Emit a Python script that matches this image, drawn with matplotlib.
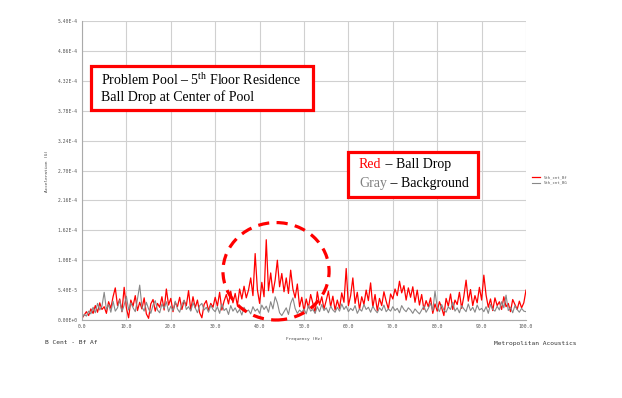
import numpy as np
import matplotlib
matplotlib.use("Agg")
import matplotlib.pyplot as plt
from matplotlib.patches import Rectangle, Ellipse

# spectrum values, units of 1e-5 G, 0.5 Hz steps from 0 to 100 Hz
red = [0.3,0.9,1.5,0.8,2.0,1.2,2.6,1.4,3.1,1.9,2.4,1.2,3.3,2.1,4.2,5.8,2.6,3.8,1.5,5.9,
       2.2,0.4,3.6,2.5,4.4,1.7,3.2,2.0,4.0,1.1,0.3,2.9,3.7,1.6,3.0,2.3,4.2,1.8,5.6,2.7,
       3.9,1.5,3.2,2.4,4.1,1.9,3.5,2.6,5.3,1.8,4.2,2.2,3.6,1.3,0.4,2.8,3.5,1.7,3.0,2.3,
       4.1,2.5,5.0,1.8,3.4,4.6,2.9,5.2,3.1,4.8,2.6,5.6,3.8,6.1,4.0,5.4,7.6,4.4,12.0,5.5,
       3.0,6.8,4.2,14.5,5.3,8.5,4.9,7.2,10.8,6.0,8.4,5.1,7.6,4.8,9.0,5.6,4.0,6.5,2.4,4.1,
       1.6,3.8,2.2,4.6,3.0,1.3,5.1,2.7,4.2,2.0,3.5,5.2,2.4,4.3,1.8,3.6,2.1,4.9,3.2,9.3,
       2.6,4.4,7.6,3.0,5.0,1.9,4.2,2.8,5.4,3.5,6.7,2.3,4.6,1.7,3.9,2.6,5.1,3.4,2.0,4.7,
       3.8,5.6,4.4,7.0,4.9,6.2,3.6,5.8,4.1,6.0,3.2,5.4,2.7,4.6,1.9,3.5,2.4,4.0,1.2,2.9,
       1.6,3.3,2.2,0.8,3.9,2.5,4.7,1.9,3.6,2.8,5.0,2.1,4.3,7.2,3.4,5.5,2.6,4.4,3.1,5.9,
       3.6,8.1,4.5,2.3,3.8,1.7,4.0,2.6,3.3,1.9,4.2,2.4,3.0,1.5,3.7,2.8,1.9,3.4,2.2,3.1,
       5.4]
gray = [0.4,1.0,0.7,1.6,1.1,2.3,1.3,3.0,1.8,2.5,5.0,1.9,2.8,1.4,3.4,1.6,2.2,3.6,1.5,2.7,
        4.3,1.8,3.1,2.2,1.5,3.8,6.3,2.4,1.6,3.2,2.0,1.2,2.7,3.5,1.8,1.3,2.9,2.1,3.3,1.5,
        2.5,1.7,3.4,2.0,1.4,2.8,3.6,1.9,2.4,1.6,3.1,2.2,1.3,2.6,3.0,1.8,2.3,1.4,2.7,1.9,
        1.5,2.4,1.2,2.9,1.7,2.1,1.0,2.6,1.6,2.2,1.3,1.9,0.9,2.3,1.5,1.8,1.1,2.4,1.6,2.0,
        1.2,2.7,1.9,2.5,1.4,3.3,2.0,4.2,3.1,1.3,0.8,1.5,2.2,1.0,3.0,4.0,2.1,1.2,1.8,1.4,
        2.0,1.1,2.6,1.6,1.9,1.2,2.4,1.5,2.8,1.7,2.2,1.3,2.5,1.8,1.4,2.3,1.6,2.9,1.9,2.5,
        1.5,2.1,1.7,2.6,1.2,2.0,1.6,2.8,1.9,2.3,1.4,2.5,1.8,1.3,2.2,1.7,2.7,1.5,2.0,1.6,
        2.4,1.7,2.1,1.3,2.6,1.9,1.5,2.2,1.8,1.2,2.0,1.5,1.1,1.8,2.5,1.4,2.1,3.0,1.7,5.2,
        2.3,1.5,2.8,1.8,1.4,2.4,1.9,3.2,1.6,2.2,1.3,2.6,2.0,1.5,2.9,1.7,2.3,1.4,2.7,1.8,
        2.1,1.5,2.4,1.2,2.8,1.9,1.6,2.5,1.8,3.3,2.2,4.5,1.7,2.3,1.3,2.6,1.9,1.4,2.1,1.6,
        1.5]
freq = np.arange(len(red)) * 0.5

yticks = [0, 5.4e-5, 1.08e-4, 1.62e-4, 2.16e-4, 2.70e-4, 3.24e-4, 3.78e-4, 4.32e-4, 4.86e-4, 5.40e-4]
ylabels = ["0.00E+0", "5.40E-5", "1.08E-4", "1.62E-4", "2.16E-4", "2.70E-4",
           "3.24E-4", "3.78E-4", "4.32E-4", "4.86E-4", "5.40E-4"]
xticks = [0, 10, 20, 30, 40, 50, 60, 70, 80, 90, 100]
xlabels = ["%.1f" % v for v in xticks]

plt.rcParams['mathtext.fontset'] = 'custom'
plt.rcParams['mathtext.rm'] = 'Liberation Serif'

fig = plt.figure(figsize=(6.22, 3.98), dpi=100)
ax = fig.add_axes([0.1318, 0.196, 0.7139, 0.751])

ax.plot(freq, np.array(red) * 1e-5, color='#ff0000', lw=0.9, label='5th_cnt_Bf')
ax.plot(freq, np.array(gray) * 1e-5, color='#888888', lw=0.8, label='5th_cnt_BG')

ax.set_xlim(0, 100)
ax.set_ylim(0, 5.4e-4)
ax.set_yticks(yticks)
ax.set_yticklabels(ylabels)
ax.set_xticks(xticks)
ax.set_xticklabels(xlabels)
mono = 'DejaVu Sans Mono'
ax.tick_params(length=0, pad=3, labelsize=3.4, labelcolor='#555555')
for lab in ax.get_xticklabels() + ax.get_yticklabels():
    lab.set_family(mono)
ax.grid(True, color='#d0d0d0', lw=0.8)
for s in ['top', 'right']:
    ax.spines[s].set_visible(False)
for s in ['left', 'bottom']:
    ax.spines[s].set_color('#aaaaaa')
    ax.spines[s].set_linewidth(0.8)

ax.set_ylabel('Acceleration (G)', family=mono, fontsize=3.2, color='#444444', labelpad=6)
ax.set_xlabel('Frequency (Hz)', family=mono, fontsize=3.2, color='#444444', labelpad=6)

leg = ax.legend(loc='center left', bbox_to_anchor=(1.005, 0.468), frameon=False,
                prop={'family': mono, 'size': 2.8}, handlelength=2.2, labelspacing=0.4)
for t in leg.get_texts():
    t.set_color('#555555')

fig.text(45 / 622, 1 - 343 / 398, 'B Cent - Bf Af', family=mono, fontsize=4.5,
         color='#333333', va='center')
fig.text(577 / 622, 1 - 343 / 398, 'Metropolitan Acoustics', family=mono, fontsize=4.5,
         color='#333333', va='center', ha='right')

# dashed circle around the peak
ax.add_patch(Ellipse((43.7, 8.8e-5), 23.9, 1.76e-4, fill=False, ec='#ff0000', lw=2.3,
                     ls=(0, (3.5, 2.3)), clip_on=False, zorder=5))

# annotation boxes
serif = 'Liberation Serif'
fig.add_artist(Rectangle((91 / 622, 1 - 110 / 398), 222 / 622, 44 / 398, transform=fig.transFigure,
                         fc='white', ec='#ff0000', lw=2.3, zorder=6))
fig.text(101 / 622, 1 - 80 / 398, 'Problem Pool \u2013 5$^{\\rm th}$ Floor Residence', family=serif,
         fontsize=10, va='center', zorder=7)
fig.text(101 / 622, 1 - 97 / 398, 'Ball Drop at Center of Pool', family=serif,
         fontsize=10, va='center', zorder=7)

fig.add_artist(Rectangle((348 / 622, 1 - 197 / 398), 130 / 622, 45 / 398, transform=fig.transFigure,
                         fc='white', ec='#ff0000', lw=2.3, zorder=6))
t1 = fig.text(359 / 622, 1 - 168 / 398, 'Red', family=serif, fontsize=10, color='#ff0000',
              va='baseline', zorder=7)
fig.add_artist(plt.Annotation(' \u2013 Ball Drop', xy=(1, 0), xycoords=t1, va='bottom',
                              family=serif, fontsize=10, zorder=7))
t2 = fig.text(359 / 622, 1 - 187 / 398, 'Gray', family=serif, fontsize=10, color='#808080',
              va='baseline', zorder=7)
fig.add_artist(plt.Annotation(' \u2013 Background', xy=(1, 0), xycoords=t2, va='bottom',
                              family=serif, fontsize=10, zorder=7))

fig.savefig('out.png', dpi=100)
